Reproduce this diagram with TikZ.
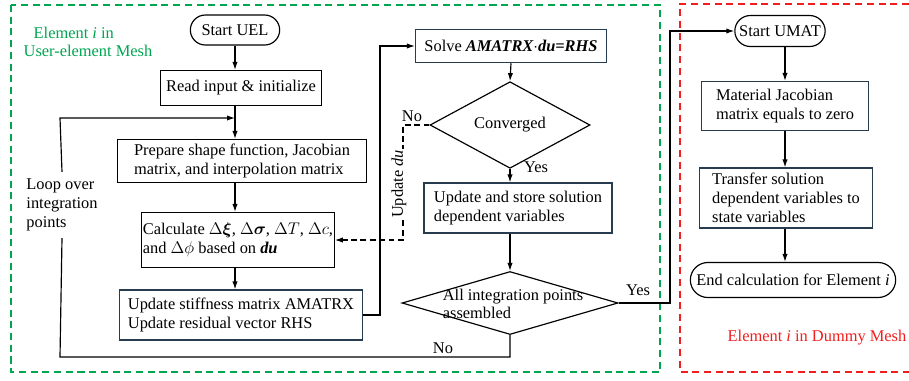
\documentclass[tikz,border=0pt]{standalone}
\usepackage{amsmath}
\usepackage{fontspec}
\setmainfont{Liberation Serif}
\usetikzlibrary{positioning,shapes,fit,calc,arrows.meta}

\definecolor{uelgreen}{RGB}{0,165,80}
\definecolor{dumred}{RGB}{240,30,30}
\definecolor{boxline}{RGB}{40,60,80}

\begin{document}
\begin{tikzpicture}[x=0.03cm,y=-0.03cm,font=\fontsize{14pt}{16pt}\selectfont,
        box/.style={draw=boxline,line width=1pt,align=left,inner sep=3pt},
        pill/.style={draw,line width=1pt,rounded rectangle,inner sep=2pt},
        dec/.style={draw,line width=1pt,diamond,inner sep=0pt},
        arr/.style={line width=1pt,-{Latex[length=2.4mm,width=1.6mm]}},
        frame/.style={line width=1.2pt,dash pattern=on 6pt off 4pt}]
        \useasboundingbox (0,0) rectangle (909,380);

        % the two meshes
        \draw[frame,uelgreen] (11,5) rectangle (660,372);
        \draw[frame,dumred] (909,4) -- (680,4) -- (680,372) -- (909,372);
        \node[text=uelgreen,align=left](uellbl)at(88,42){\hspace*{0.3cm}Element \textit{i} in\\User-element Mesh};
        \node[text=dumred](dumlbl)at(817,338){Element \textit{i} in Dummy Mesh};

        % UEL
        \node[pill,minimum width=2.82cm,minimum height=0.9cm](uel)at(235,30){Start UEL};
        \node[box,draw=black,minimum width=4.83cm,minimum height=1.05cm](read)at(241,88){Read input \& initialize};
        \node[box,draw=black,minimum width=7.47cm,minimum height=1.29cm](prep)at(242,161){Prepare shape function, Jacobian\\matrix, and interpolation matrix};
        \node[box,draw=black,inner xsep=1pt,minimum width=5.58cm,minimum height=1.65cm](calc)at(238,240){Calculate $\Delta\boldsymbol{\xi}$, $\Delta\boldsymbol{\sigma}$, $\Delta T$, $\Delta c$,\\and $\Delta\phi$ based on \textbf{\textit{du}}};
        \node[box,minimum width=7.29cm,minimum height=1.5cm](stiff)at(241,315){Update stiffness matrix AMATRX\\Update residual vector RHS};
        \node[box,minimum width=5.73cm,minimum height=1.0cm](solve)at(511,46){Solve \textbf{\textit{AMATRX$\cdot$du=RHS}}};
        \node[dec,minimum width=4.8cm,minimum height=1.65cm](conv)at(510,125){Converged};
        \node[box,minimum width=5.64cm,minimum height=1.5cm](stor)at(518,208){Update and store solution\\dependent variables};
        \node[dec,minimum width=6.48cm,minimum height=1.89cm](alld)at(510,303){};
        \node[align=left](alldtxt)at(513,304){All integration points\\assembled};
        \node[fill=white,align=left,inner ysep=6pt](looptxt)at(62,205){Loop over\\integration\\points};

        % UMAT
        \node[pill,minimum width=2.85cm,minimum height=0.93cm](umat)at(780,31){Start UMAT};
        \node[box,minimum width=5.0cm,minimum height=1.47cm](mat)at(785,106){Material Jacobian\\matrix equals to zero};
        \node[box,minimum width=5.19cm,minimum height=1.8cm](trans)at(786,198){Transfer solution\\dependent variables to\\state variables};
        \node[pill,minimum width=6.3cm,minimum height=1.05cm](endc)at(793,280){End calculation for Element \textit{i}};

        \coordinate (lpbot) at (60,357);
        \coordinate (lptop) at (60,118);
        \coordinate (upbend) at (380,46);
        \coordinate (dbend) at (403,125);
        \coordinate (ybend) at (670,303);

        \draw[arr] (uel.south) -- (uel.south |- read.north);
        \draw[arr] (read.south -| uel) -- (prep.north -| uel);
        \draw[arr] (prep.south -| uel) -- (calc.north -| uel);
        \draw[arr] (calc.south -| uel) -- (stiff.north -| uel);
        \draw[line width=1pt] (alld.south) |- (lpbot) -- (looptxt.south);
        \draw[arr] (looptxt.north) -- (lptop) -- (lptop -| uel);
        \node(nolbl)at(443,348){No};
        \draw[arr] (stiff.east) -| (upbend) -- (solve.west);
        \draw[arr] (solve.south) -- (conv.north);
        \draw[arr] (conv.south) -- (conv.south |- stor.north);
        \node(yeslbl)at(536,167){Yes};
        \draw[arr,dash pattern=on 5pt off 3pt] (conv.west) -- (dbend) -- (dbend |- calc.east) -- (calc.east);
        \node(nolbl2)at(412,116){No};
        \node[fill=white,rotate=90,inner sep=1pt](updu)at(399,184){Update \textit{du}};
        \draw[arr] (stor.south -| alld) -- (alld.north);
        \draw[arr] (alld.east) -- (ybend) -- (ybend |- umat) -- (umat.west);
        \node(yeslbl2)at(638,290){Yes};

        \draw[arr] (mat.north |- umat.south) -- (mat.north);
        \draw[arr] (mat.south) -- (mat.south |- trans.north);
        \draw[arr] (mat.south |- trans.south) -- (mat.south |- endc.north);
    \end{tikzpicture}
\end{document}
